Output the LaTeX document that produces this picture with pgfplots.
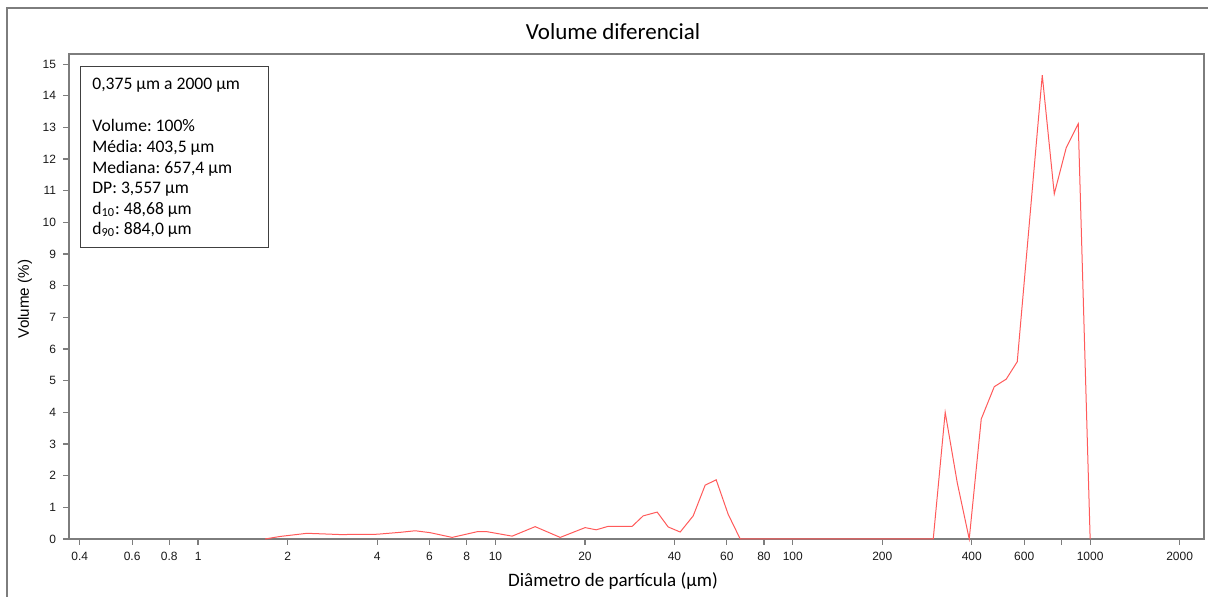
\documentclass[border=0pt]{standalone}
\usepackage{pgfplots}
\pgfplotsset{compat=1.18}
\usepackage{fontspec}
\setmainfont{Carlito}
\newfontfamily\arialf{Liberation Sans}
\definecolor{axgray}{RGB}{125,125,125}
\definecolor{curvered}{RGB}{255,90,90}
\frenchspacing
\pgfplotstableread{
d v
1.680 0
1.887 0.08
2.326 0.18
3.004 0.14
4.000 0.15
4.779 0.21
5.370 0.26
6.03 0.20
7.151 0.05
8.679 0.23
9.378 0.23
11.38 0.09
13.60 0.39
16.51 0.05
20.03 0.36
21.82 0.29
23.94 0.40
28.83 0.40
31.39 0.73
34.99 0.85
38.10 0.38
41.81 0.22
46.24 0.73
50.73 1.70
55.25 1.87
60.63 0.78
66.55 0
296.7 0
325.5 4.00
357.3 1.78
392.1 0
430.3 3.79
475.9 4.81
522.2 5.05
568.7 5.60
690.2 14.65
757.5 10.90
830.9 12.36
912.0 13.12
1000 0
}\datatable
\begin{document}
\begin{tikzpicture}[x=1pt,y=1pt]
\useasboundingbox (0,0) rectangle (604,298.5);
\draw[axgray, line width=0.75pt] (3.5,-2) -- (3.5,294.5) -- (610,294.5);
\begin{axis}[at={(34.5pt,29pt)}, anchor=south west, scale only axis,
  width=567.5pt, height=242.5pt,
  xmode=log, xmin=0.368, xmax=2415, ymin=0, ymax=15.32,
  xtick={0.4,0.6,0.8,1,2,4,6,8,10,20,40,60,80,100,200,400,600,800,1000,2000},
  xticklabels={0.4,0.6,0.8,1,2,4,6,8,10,20,40,60,80,100,200,400,600,,1000,2000},
  xminorticks=false,
  ytick={0,1,...,15},
  tick align=outside, tick pos=left, major tick length=3pt,
  axis line style={axgray, line width=0.75pt},
  every tick/.style={axgray, line width=0.6pt},
  ticklabel style={font=\arialf\fontsize{6}{7}\selectfont, text=black!90},
  /pgf/number format/assume math mode=true,
  clip=false,
]
\addplot[curvered, line width=0.5pt, no marks] table[x=d, y=v] {\datatable};
\end{axis}
% title and labels
\node[font=\fontsize{11.5}{13}\selectfont] at (306.5,282.5) {Volume diferencial};
\node[font=\fontsize{9.5}{11}\selectfont] at (306.5,8) {Diâmetro de partícula (µm)};
\node[font=\arialf\fontsize{7.6}{9}\selectfont, rotate=90] at (12.5,149) {Volume (\%)};
% info box
\draw[black!75, line width=0.5pt, fill=white] (40,174.5) rectangle (134,265);
\begin{scope}[every node/.style={anchor=base west, inner sep=0pt, font=\fontsize{8.8}{10}\selectfont}]
\node at (46,253.5) {0,375 µm a 2000 µm};
\node at (46,232.5) {Volume: 100\%};
\node at (46,222.2) {Média: 403,5 µm};
\node at (46,211.9) {Mediana: 657,4 µm};
\node at (46,201.6) {DP: 3,557 µm};
\node at (46,191.3) {d\textsubscript{10}: 48,68 µm};
\node at (46,181.0) {d\textsubscript{90}: 884,0 µm};
\end{scope}
\end{tikzpicture}
\end{document}
